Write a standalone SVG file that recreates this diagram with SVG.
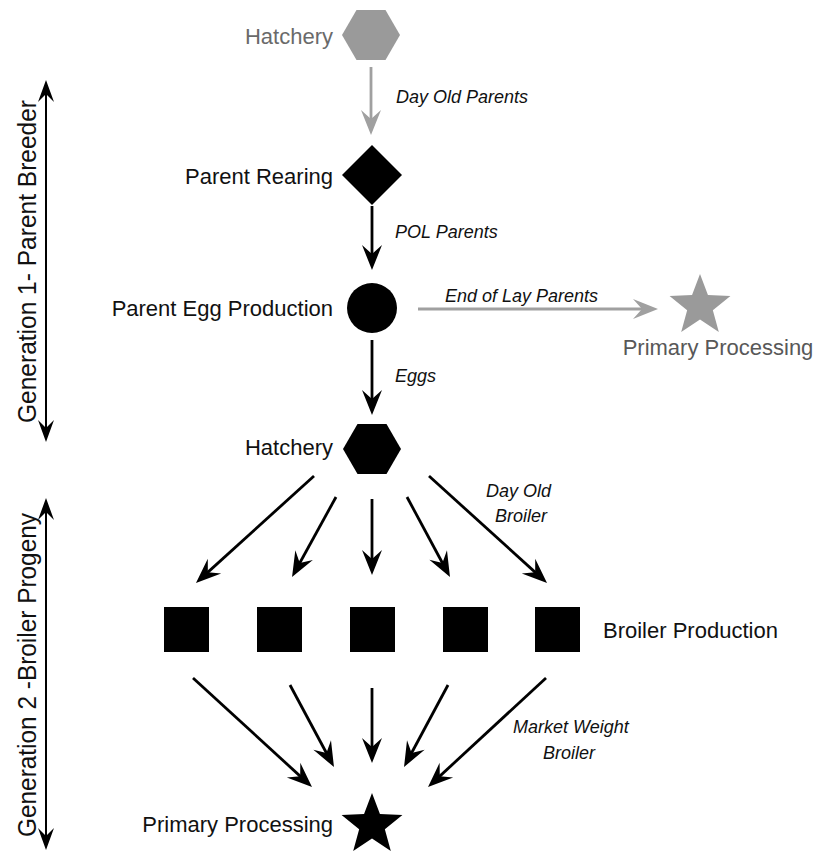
<svg xmlns="http://www.w3.org/2000/svg" width="817" height="854" viewBox="0 0 817 854">
<style>
  .lbl { font-family: "Liberation Sans", Arial, sans-serif; font-size: 22px; fill: #111; }
  .gl { fill: #6a6a6a; }
  .gl2 { fill: #585858; }
  .it { font-family: "Liberation Sans", Arial, sans-serif; font-size: 18px; font-style: italic; fill: #111; }
  .side { font-family: "Liberation Sans", Arial, sans-serif; font-size: 25px; fill: #111; }
  .blk { fill: #000; }
  .gry { fill: #9a9a9a; }
  .ln { stroke: #000; stroke-width: 2.8; fill: none; marker-end: url(#ah); }
  .lng { stroke: #a0a0a0; stroke-width: 2.8; fill: none; marker-end: url(#ahg); }
  .dbl { stroke: #000; stroke-width: 2; fill: none; marker-start: url(#ah2); marker-end: url(#ah2); }
</style>
<defs>
  <marker id="ah" viewBox="-27 -11 29 22" markerWidth="29" markerHeight="22" refX="-8" refY="0" markerUnits="userSpaceOnUse" orient="auto">
    <path d="M0,0 L-25,-10 L-16,0 L-25,10 Z" fill="#000"/>
  </marker>
  <marker id="ahg" viewBox="-27 -11 29 22" markerWidth="29" markerHeight="22" refX="-8" refY="0" markerUnits="userSpaceOnUse" orient="auto">
    <path d="M0,0 L-25,-10 L-16,0 L-25,10 Z" fill="#a0a0a0"/>
  </marker>
  <marker id="ah2" viewBox="-24 -9 26 18" markerWidth="26" markerHeight="18" refX="-6" refY="0" markerUnits="userSpaceOnUse" orient="auto-start-reverse">
    <path d="M0,0 L-22,-8 L-14,0 L-22,8 Z" fill="#000"/>
  </marker>
  <path id="hex" d="M-29,0 L-14.5,-25.1 L14.5,-25.1 L29,0 L14.5,25.1 L-14.5,25.1 Z"/>
  <path id="star" d="M0,-32 L7.94,-10.92 L30.43,-9.89 L12.84,4.17 L18.81,25.89 L0,13.5 L-18.81,25.89 L-12.84,4.17 L-30.43,-9.89 L-7.94,-10.92 Z"/>
</defs>
<rect width="817" height="854" fill="#fff"/>

<g id="gen1-axis">
  <line class="dbl" x1="46" y1="86" x2="46" y2="436"/>
  <text class="side" transform="translate(36,423) rotate(-90)" textLength="323" lengthAdjust="spacingAndGlyphs">Generation 1- Parent Breeder</text>
</g>
<g id="gen2-axis">
  <line class="dbl" x1="46" y1="504" x2="46" y2="844"/>
  <text class="side" transform="translate(36,837) rotate(-90)" textLength="324" lengthAdjust="spacingAndGlyphs">Generation 2 -Broiler Progeny</text>
</g>

<g id="connectors">
  <line class="lng" x1="371" y1="67" x2="371" y2="127"/>
  <line class="ln" x1="372" y1="206" x2="372" y2="262"/>
  <line class="lng" x1="418" y1="309" x2="650" y2="309"/>
  <line class="ln" x1="372" y1="340" x2="372" y2="407"/>
  <line class="ln" x1="314" y1="476" x2="201.9" y2="577.6"/>
  <line class="ln" x1="336" y1="497" x2="295.9" y2="570"/>
  <line class="ln" x1="372" y1="499" x2="372" y2="567"/>
  <line class="ln" x1="407" y1="497" x2="446.2" y2="570"/>
  <line class="ln" x1="429" y1="476" x2="541.1" y2="577.6"/>
  <line class="ln" x1="193" y1="678" x2="306.1" y2="781.6"/>
  <line class="ln" x1="290" y1="685" x2="330.2" y2="760"/>
  <line class="ln" x1="372" y1="688" x2="372" y2="755"/>
  <line class="ln" x1="448" y1="685" x2="407.8" y2="760"/>
  <line class="ln" x1="546" y1="678" x2="433.9" y2="781.6"/>
  <text class="it" x="396" y="103">Day Old Parents</text>
  <text class="it" x="395" y="238">POL Parents</text>
  <text class="it" x="445" y="302">End of Lay Parents</text>
  <text class="it" x="395" y="382">Eggs</text>
  <text class="it" x="486" y="497">Day Old</text>
  <text class="it" x="495" y="522">Broiler</text>
  <text class="it" x="513" y="733">Market Weight</text>
  <text class="it" x="543" y="759">Broiler</text>
</g>

<g id="hatchery-top">
  <use href="#hex" class="gry" transform="translate(371,35)"/>
  <text class="lbl gl" x="333" y="44" text-anchor="end">Hatchery</text>
</g>
<g id="parent-rearing">
  <path class="blk" d="M372,145 L402,175 L372,205 L342,175 Z"/>
  <text class="lbl" x="333" y="184" text-anchor="end">Parent Rearing</text>
</g>
<g id="parent-egg-production">
  <circle class="blk" cx="372" cy="308" r="25"/>
  <text class="lbl" x="333" y="316" text-anchor="end">Parent Egg Production</text>
</g>
<g id="primary-processing-top">
  <use href="#star" class="gry" transform="translate(700,306)"/>
  <text class="lbl gl2" x="718" y="355" text-anchor="middle">Primary Processing</text>
</g>
<g id="hatchery">
  <use href="#hex" class="blk" transform="translate(372,449)"/>
  <text class="lbl" x="333" y="455" text-anchor="end">Hatchery</text>
</g>
<g id="broiler-production">
  <rect class="blk" x="164" y="607" width="45" height="45"/>
  <rect class="blk" x="257" y="607" width="45" height="45"/>
  <rect class="blk" x="350" y="607" width="45" height="45"/>
  <rect class="blk" x="443" y="607" width="45" height="45"/>
  <rect class="blk" x="535" y="607" width="45" height="45"/>
  <text class="lbl" x="603" y="638">Broiler Production</text>
</g>
<g id="primary-processing">
  <use href="#star" class="blk" transform="translate(372,825)"/>
  <text class="lbl" x="333" y="832" text-anchor="end">Primary Processing</text>
</g>
</svg>
